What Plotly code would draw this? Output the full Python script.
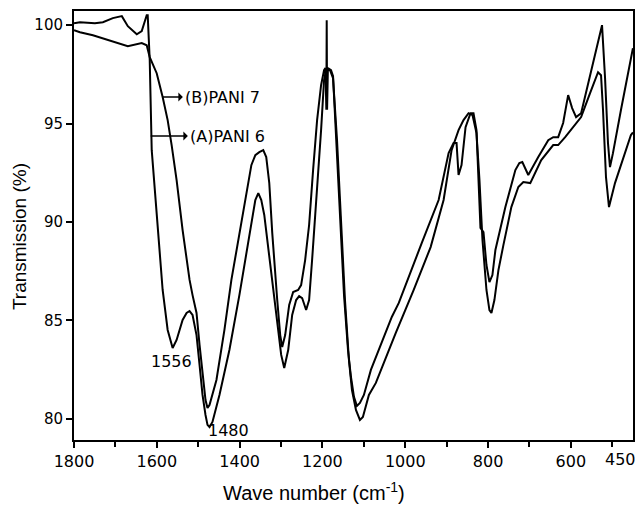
import plotly.graph_objects as go

# ---- data ----
# (A) PANI 6
a_wave = [1800, 1785.6, 1749.5, 1730.2, 1706.2, 1684.5, 1670.0, 1648.4, 1636.4, 1624.4, 1622.0,
          1617.1, 1612.3, 1600.3, 1585.9, 1573.8, 1561.8, 1552.2, 1537.7, 1528.1, 1520.9, 1513.7,
          1504.1, 1496.8, 1489.6, 1482.4, 1477.6, 1472.8, 1465.6, 1448.7, 1424.7, 1400.6, 1376.5,
          1362.1, 1354.9, 1347.7, 1340.5, 1328.4, 1311.6, 1299.6, 1292.3, 1282.7, 1273.1, 1263.5,
          1256.2, 1249.0, 1239.4, 1232.2, 1225.0, 1212.9, 1203.3, 1196.1, 1191.3, 1181.7, 1174.4,
          1164.8, 1155.2, 1145.6, 1136.0, 1128.7, 1119.1, 1109.5, 1102.3, 1087.8, 1071.0, 1022.9,
          979.6, 938.7, 907.4, 888.1, 871.3, 859.3, 847.2, 837.6, 828.0, 820.8, 813.5, 803.9,
          796.7, 791.9, 784.7, 775.0, 763.0, 743.8, 726.9, 714.9, 698.1, 671.6, 642.7, 630.7,
          613.8, 589.8, 575.3, 553.7, 534.4, 527.2, 522.4, 515.2, 508.0, 493.5, 455.0, 450.0]
a_trans = [100.10, 100.15, 100.10, 100.15, 100.36, 100.46, 99.95, 99.54, 99.70, 100.51, 100.51,
           98.22, 93.65, 90.25, 86.55, 84.52, 83.60, 84.01, 85.03, 85.38, 85.48, 85.28,
           84.26, 82.74, 81.22, 80.20, 79.70, 79.59, 79.85, 81.22, 83.50, 86.29, 89.34,
           91.12, 91.47, 91.12, 90.36, 88.32, 85.28, 83.25, 82.59, 83.50, 85.28, 86.04,
           86.24, 86.14, 85.53, 86.04, 88.07, 91.62, 94.67, 97.21, 97.72, 97.72, 97.31,
           94.16, 90.10, 86.04, 82.99, 81.47, 80.46, 79.95, 80.10, 81.22, 81.83, 84.37,
           86.55, 88.73, 91.12, 93.65, 94.67, 95.18, 95.53, 95.43, 94.52, 92.13, 89.09, 86.55,
           85.53, 85.38, 86.04, 87.56, 88.83, 90.76, 91.78, 92.03, 91.98, 93.15, 93.91, 93.91,
           94.31, 94.92, 95.33, 96.55, 97.61, 97.46, 95.69, 92.28, 90.76, 91.98, 94.42, 94.55]

# (B) PANI 7
b_wave = [1800, 1785.6, 1754.3, 1730.2, 1706.2, 1670.0, 1636.4, 1624.4, 1617.1, 1600.3, 1585.9,
          1573.8, 1564.2, 1552.2, 1537.7, 1520.9, 1513.7, 1504.1, 1496.8, 1489.6, 1482.4, 1477.6,
          1472.8, 1456.0, 1436.7, 1419.9, 1400.6, 1383.8, 1371.7, 1362.1, 1352.5, 1342.9, 1335.7,
          1328.4, 1321.2, 1309.2, 1302.0, 1297.2, 1290.0, 1280.3, 1270.7, 1258.7, 1251.5, 1241.8,
          1232.2, 1222.6, 1212.9, 1203.3, 1196.1, 1192.8, 1190.6, 1189.7, 1188.8, 1186.8, 1179.3,
          1174.4, 1167.2, 1157.6, 1147.9, 1138.3, 1131.1, 1123.9, 1116.7, 1109.5, 1099.9, 1083.0,
          1032.5, 1015.6, 960.3, 919.4, 895.3, 883.3, 876.1, 871.3, 864.1, 854.4, 842.4, 835.2,
          828.0, 818.4, 811.1, 803.9, 796.7, 789.5, 782.3, 758.2, 734.1, 724.5, 717.3, 710.1,
          702.9, 678.8, 654.7, 642.7, 630.7, 618.7, 606.6, 597.0, 587.4, 575.3, 551.3, 524.8,
          517.6, 510.4, 505.6, 498.4, 479.1, 450.2]
b_trans = [99.75, 99.64, 99.49, 99.34, 99.19, 98.93, 99.09, 98.98, 98.38, 97.56, 96.35,
           95.18, 93.91, 92.13, 89.59, 87.06, 86.29, 85.38, 83.76, 82.23, 80.96, 80.56,
           80.71, 81.98, 84.52, 87.06, 89.44, 91.47, 92.89, 93.40, 93.55, 93.65, 93.30,
           91.98, 89.44, 86.04, 84.26, 83.65, 84.26, 85.79, 86.45, 86.55, 86.80, 88.07,
           89.85, 92.64, 95.18, 96.95, 97.72, 97.82, 95.70, 100.25, 95.70, 97.82, 97.72,
           97.41, 94.67, 90.36, 86.29, 83.50, 82.13, 81.12, 80.66, 80.81, 81.22, 82.49,
           85.18, 85.89, 88.93, 91.12, 93.50, 94.01, 94.01, 92.39, 92.89, 94.82, 95.53, 95.53,
           94.67, 89.70, 89.49, 87.82, 86.95, 87.31, 88.58, 90.76, 92.64, 93.00, 93.05, 92.74,
           92.39, 93.30, 94.16, 94.31, 94.31, 95.03, 96.45, 95.79, 95.33, 95.53, 97.72, 100.00,
           97.36, 94.01, 92.79, 93.50, 95.69, 98.83]

x_tick_vals = [1800, 1600, 1400, 1200, 1000, 800, 600]
x_tick_text = ["1800", "1600", "1400", "1200", "1000", "800", "600"]
y_tick_vals = [80, 85, 90, 95, 100]
y_tick_text = ["80", "85", "90", "95", "100"]

x_tick_font = dict(family="DejaVu Sans", size=16, color="black")
y_tick_font = dict(family="DejaVu Sans", size=15, color="black")
label_font = dict(family="DejaVu Sans", size=16, color="black")
title_font_y = dict(family="Liberation Sans", size=19, color="black")
title_font_x = dict(family="Liberation Sans", size=20, color="black")

fig = go.Figure()
fig.add_trace(go.Scatter(x=a_wave, y=a_trans, mode="lines", name="(A) PANI 6",
                         line=dict(color="black", width=2)))
fig.add_trace(go.Scatter(x=b_wave, y=b_trans, mode="lines", name="(B) PANI 7",
                         line=dict(color="black", width=2)))

fig.update_layout(
    width=640, height=506,
    margin=dict(l=74, r=5, t=11, b=66),
    plot_bgcolor="white", paper_bgcolor="white",
    showlegend=False,
    xaxis=dict(range=[1800, 450], tickmode="array", tickvals=x_tick_vals, ticktext=x_tick_text,
               ticks="outside", ticklen=6, tickwidth=2, tickcolor="black",
               minor=dict(dtick=100, ticks="outside", ticklen=5, tickwidth=1.5, tickcolor="black"),
               showline=True, linewidth=2, linecolor="black", mirror=True,
               showgrid=False, zeroline=False, tickfont=x_tick_font),
    yaxis=dict(range=[78.93, 100.72], tickmode="array", tickvals=y_tick_vals, ticktext=y_tick_text,
               ticks="outside", ticklen=6, tickwidth=2, tickcolor="black",
               showline=True, linewidth=2, linecolor="black", mirror=True,
               showgrid=False, zeroline=False, tickfont=y_tick_font),
)

annotations = [
    # labels with pointer arrows running from the curves, arrowhead at the text
    dict(x=1585.9, y=96.35, ax=1537.0, ay=96.35, xref="x", yref="y", axref="x", ayref="y",
         text="(B)PANI 7", showarrow=True, arrowside="start", arrowhead=2, arrowsize=1,
         arrowwidth=1.5, arrowcolor="black", xanchor="left", yanchor="middle",
         startstandoff=0, standoff=0, font=label_font),
    dict(x=1614.7, y=94.37, ax=1525.0, ay=94.37, xref="x", yref="y", axref="x", ayref="y",
         text="(A)PANI 6", showarrow=True, arrowside="start", arrowhead=2, arrowsize=1,
         arrowwidth=1.5, arrowcolor="black", xanchor="left", yanchor="middle",
         startstandoff=0, standoff=0, font=label_font),
    dict(x=1564, y=82.9, xref="x", yref="y", text="1556", showarrow=False, font=label_font),
    dict(x=1427, y=79.4, xref="x", yref="y", text="1480", showarrow=False, font=label_font),
    # last tick label at the right edge
    dict(x=450, y=0, xref="x", yref="paper", text="450", showarrow=False,
         xanchor="right", yanchor="top", xshift=5, yshift=-8, font=x_tick_font),
    # axis titles
    dict(x=0, y=0.473, xref="paper", yref="paper", xshift=-55, text="Transmission (%)",
         textangle=-90, showarrow=False, xanchor="center", yanchor="middle", font=title_font_y),
    dict(x=0.4296, y=-0.121, xref="paper", yref="paper", text="Wave number (cm<sup>-1</sup>)",
         showarrow=False, xanchor="center", yanchor="middle", font=title_font_x),
]
fig.update_layout(annotations=annotations)

fig.write_html("out.html", config={"displayModeBar": False},
               post_script="document.body.style.margin='0px';document.body.style.overflow='hidden';")
